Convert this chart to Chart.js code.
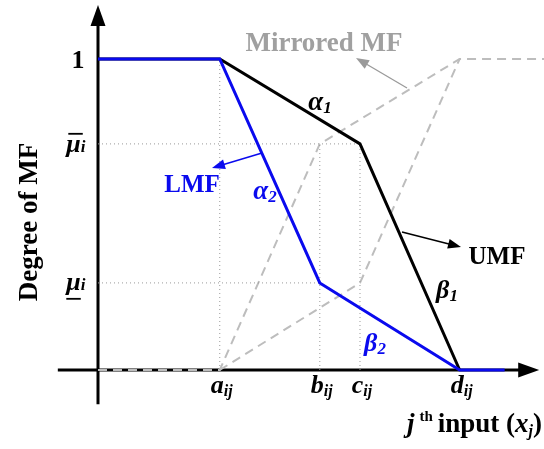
<!DOCTYPE html>
<html>
<head>
<meta charset="utf-8">
<script src="https://cdn.jsdelivr.net/npm/chart.js@4.4.0/dist/chart.umd.min.js"></script>
<style>
  html, body { margin: 0; padding: 0; background: #fff; }
  #wrap { width: 544px; height: 449px; }
</style>
</head>
<body>
<div id="wrap"><canvas id="mfChart" width="544" height="449"></canvas></div>
<script>
// breakpoints on the input axis (a, b, c, d) and the two membership levels
const knotNames = ['a', 'b', 'c', 'd'];
const knotX = [3.03, 5.52, 6.52, 9.0];
const muUpper = 0.727;
const muLower = 0.28;

// upper membership function (UMF)
const umfX = [0, 3.03, 6.52, 9.0];
const umfY = [1, 1, 0.727, 0];

// lower membership function (LMF)
const lmfX = [0, 3.03, 5.52, 9.0, 10.12];
const lmfY = [1, 1, 0.28, 0, 0];

// mirrored MF, upper and lower branches
const mirUpX = [0, 3.03, 5.52, 9.0, 11.2];
const mirUpY = [0, 0, 0.727, 1, 1];
const mirLoX = [3.03, 6.52, 9.0];
const mirLoY = [0, 0.28, 1];

const SERIF = '"Liberation Serif", "DejaVu Serif", serif';
const BLUE = '#0a0aee';
const GREY = '#bdbdbd';

function pts(xs, ys) {
  return xs.map((x, i) => ({ x: x, y: ys[i] }));
}

function lineSet(label, data, color, width, dash) {
  return {
    label: label,
    data: data,
    showLine: true,
    borderColor: color,
    borderWidth: width,
    borderDash: dash || [],
    pointRadius: 0,
    pointHoverRadius: 0,
    fill: false,
    tension: 0,
    clip: false
  };
}

// dotted guide lines at the breakpoints
const guideColor = '#9a9a9a';
const guides = [
  pts([0, knotX[2]], [muUpper, muUpper]),
  pts([0, knotX[1]], [muLower, muLower]),
  pts([knotX[0], knotX[0]], [0, 1]),
  pts([knotX[1], knotX[1]], [0, muUpper]),
  pts([knotX[2], knotX[2]], [0, muUpper])
];

const datasets = [
  lineSet('LMF', pts(lmfX, lmfY), BLUE, 3),
  lineSet('UMF', pts(umfX, umfY), '#000', 3)
];
guides.forEach((g, i) => datasets.push(lineSet('guide' + i, g, guideColor, 1, [1, 3])));
datasets.push(lineSet('Mirrored upper', pts(mirUpX, mirUpY), GREY, 2, [9, 6]));
datasets.push(lineSet('Mirrored lower', pts(mirLoX, mirLoY), GREY, 2, [9, 6]));

// draws a run of text pieces with their own fonts and baseline shifts
function richText(ctx, parts, x, y, align, color) {
  let total = 0;
  parts.forEach(p => { ctx.font = p.font; total += ctx.measureText(p.t).width + (p.gap || 0); });
  let cx = align === 'center' ? x - total / 2 : (align === 'right' ? x - total : x);
  const spans = [];
  parts.forEach(p => {
    ctx.font = p.font;
    ctx.fillStyle = p.color || color;
    ctx.textAlign = 'left';
    ctx.textBaseline = 'alphabetic';
    ctx.fillText(p.t, cx, y + (p.dy || 0));
    const w = ctx.measureText(p.t).width;
    spans.push({ x0: cx, x1: cx + w });
    cx += w + (p.gap || 0);
  });
  return spans;
}

function arrow(ctx, x0, y0, x1, y1, color, width, head) {
  const ang = Math.atan2(y1 - y0, x1 - x0);
  ctx.save();
  ctx.strokeStyle = color;
  ctx.fillStyle = color;
  ctx.lineWidth = width;
  ctx.beginPath();
  ctx.moveTo(x0, y0);
  ctx.lineTo(x1 - Math.cos(ang) * head * 0.8, y1 - Math.sin(ang) * head * 0.8);
  ctx.stroke();
  ctx.beginPath();
  ctx.moveTo(x1, y1);
  ctx.lineTo(x1 - head * Math.cos(ang) + head * 0.38 * Math.sin(ang),
             y1 - head * Math.sin(ang) - head * 0.38 * Math.cos(ang));
  ctx.lineTo(x1 - head * Math.cos(ang) - head * 0.38 * Math.sin(ang),
             y1 - head * Math.sin(ang) + head * 0.38 * Math.cos(ang));
  ctx.closePath();
  ctx.fill();
  ctx.restore();
}

// axes with arrow heads, drawn under the curves
const axesPlugin = {
  id: 'axesPlugin',
  beforeDatasetsDraw(chart) {
    const ctx = chart.ctx;
    const X = v => chart.scales.x.getPixelForValue(v);
    const Y = v => chart.scales.y.getPixelForValue(v);
    ctx.save();
    ctx.strokeStyle = '#000';
    ctx.fillStyle = '#000';
    ctx.lineWidth = 3;
    ctx.beginPath();
    ctx.moveTo(X(-1), Y(0));
    ctx.lineTo(X(10.5), Y(0));
    ctx.moveTo(X(0), Y(-0.11));
    ctx.lineTo(X(0), Y(1.11));
    ctx.stroke();
    // x arrow
    ctx.beginPath();
    ctx.moveTo(X(10.98), Y(0));
    ctx.lineTo(X(10.98) - 21, Y(0) - 7.5);
    ctx.lineTo(X(10.98) - 21, Y(0) + 7.5);
    ctx.closePath();
    ctx.fill();
    // y arrow
    ctx.beginPath();
    ctx.moveTo(X(0), Y(1.174));
    ctx.lineTo(X(0) - 7.5, Y(1.174) + 21);
    ctx.lineTo(X(0) + 7.5, Y(1.174) + 21);
    ctx.closePath();
    ctx.fill();
    ctx.restore();
  },
  afterDraw(chart) {
    const ctx = chart.ctx;
    const X = v => chart.scales.x.getPixelForValue(v);
    const Y = v => chart.scales.y.getPixelForValue(v);
    const b = s => 'bold ' + s + 'px ' + SERIF;
    const bi = s => 'italic bold ' + s + 'px ' + SERIF;
    ctx.save();

    // y level labels
    richText(ctx, [{ t: '1', font: b(26) }], X(-0.5), Y(1) + 9, 'center', '#000');
    let sp = richText(ctx, [{ t: 'μ', font: bi(26) }, { t: 'i', font: bi(17), dy: 0 }],
      X(-0.55), Y(muUpper) + 8, 'center', '#000');
    ctx.fillStyle = '#000';
    ctx.fillRect(sp[0].x0 + 2, Y(muUpper) - 11, sp[0].x1 - sp[0].x0, 1.8);
    sp = richText(ctx, [{ t: 'μ', font: bi(26) }, { t: 'i', font: bi(17), dy: 0 }],
      X(-0.55), Y(muLower) + 7, 'center', '#000');
    ctx.fillRect(sp[0].x0, Y(muLower) + 15, sp[0].x1 - sp[0].x0, 1.8);

    // breakpoint labels on the x axis
    knotNames.forEach((n, i) => {
      richText(ctx, [{ t: n, font: bi(26) }, { t: 'ij', font: bi(16), dy: 3 }],
        X(knotX[i]) + 2, Y(0) + 23, 'center', '#000');
    });

    // axis titles
    richText(ctx, [
      { t: 'j', font: bi(27), gap: 5 },
      { t: 'th', font: b(15), dy: -11, gap: 5 },
      { t: 'input (', font: b(27) },
      { t: 'x', font: bi(27) },
      { t: 'j', font: bi(16), dy: 4 },
      { t: ')', font: b(27) }
    ], 542, 432, 'right', '#000');
    ctx.save();
    ctx.translate(37, 222);
    ctx.rotate(-Math.PI / 2);
    richText(ctx, [{ t: 'Degree of MF', font: b(27) }], 0, 0, 'center', '#000');
    ctx.restore();

    // curve names
    richText(ctx, [{ t: 'Mirrored MF', font: b(27) }], 324, 51, 'center', '#a0a0a0');
    richText(ctx, [{ t: 'LMF', font: b(25) }], 192, 192, 'center', BLUE);
    richText(ctx, [{ t: 'UMF', font: b(25) }], 497, 264, 'center', '#000');

    // slope labels
    richText(ctx, [{ t: 'α', font: bi(27) }, { t: '1', font: bi(17), dy: 3 }], 320, 110, 'center', '#000');
    richText(ctx, [{ t: 'α', font: bi(27), color: BLUE }, { t: '2', font: bi(17), dy: 3, color: BLUE }], 265, 199, 'center', BLUE);
    richText(ctx, [{ t: 'β', font: bi(26) }, { t: '1', font: bi(17), dy: 3 }], 447, 298, 'center', '#000');
    richText(ctx, [{ t: 'β', font: bi(26) }, { t: '2', font: bi(17), dy: 3 }], 375, 351, 'center', BLUE);

    // pointer arrows
    arrow(ctx, 407, 88, 356, 58, '#9a9a9a', 1.3, 13);
    arrow(ctx, 262, 153, 212, 168, BLUE, 1.5, 13);
    arrow(ctx, 402, 232, 461, 247, '#000', 1.5, 13);
    ctx.restore();
  }
};

const ctx = document.getElementById('mfChart').getContext('2d');
const mfChart = new Chart(ctx, {
  type: 'scatter',
  data: { datasets: datasets },
  options: {
    responsive: false,
    devicePixelRatio: 1,
    animation: false,
    layout: { padding: { left: 98, right: 4, top: 59, bottom: 79 } },
    plugins: { legend: { display: false }, tooltip: { enabled: false } },
    scales: {
      x: { type: 'linear', min: 0, max: 11, display: false },
      y: { type: 'linear', min: 0, max: 1, display: false }
    }
  },
  plugins: [axesPlugin]
});
</script>
</body>
</html>
